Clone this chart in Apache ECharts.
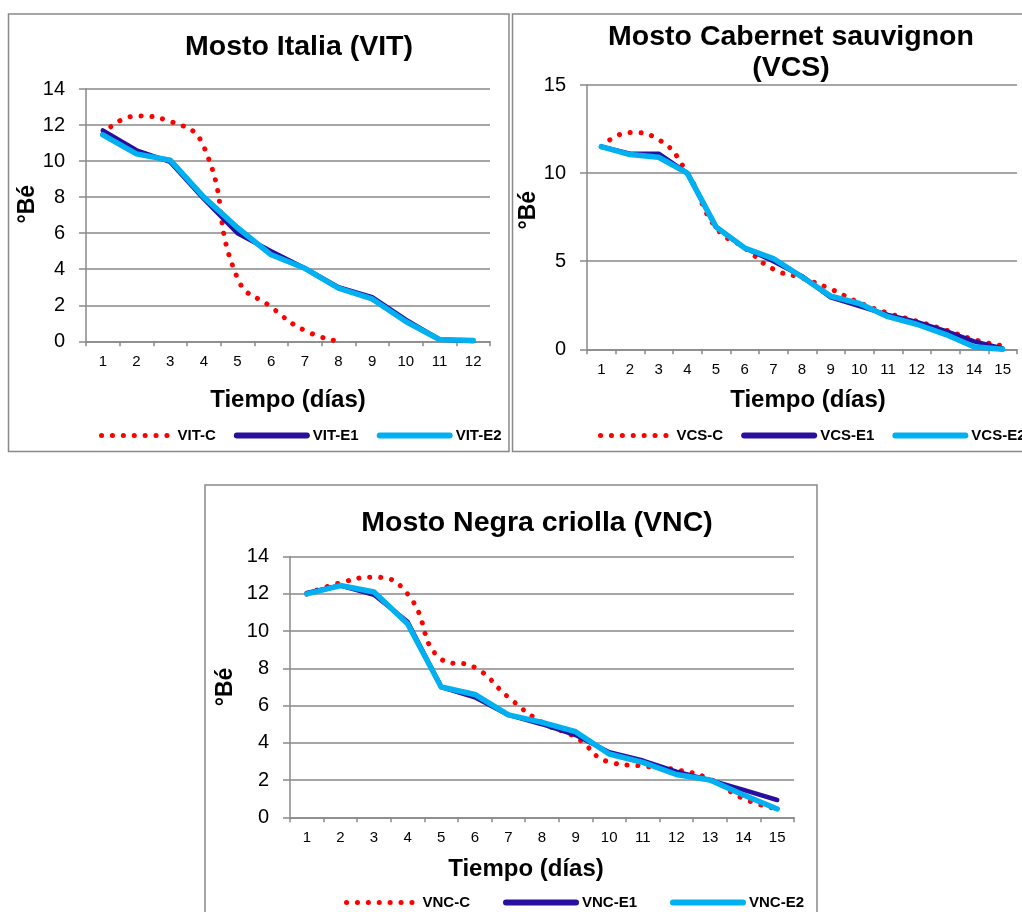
<!DOCTYPE html>
<html>
<head>
<meta charset="utf-8">
<script src="https://cdn.jsdelivr.net/npm/echarts@6/dist/echarts.min.js"></script>
<style>
html,body{margin:0;padding:0;background:#fff;}
#c{width:1022px;height:912px;}
</style>
</head>
<body>
<div id="c"></div>
<script>
// ---- data ----
const days12 = ['1','2','3','4','5','6','7','8','9','10','11','12'];
const days15 = ['1','2','3','4','5','6','7','8','9','10','11','12','13','14','15'];

const vitC  = [11.5, 12.5, 12.2, 10.8, 3.5, 1.9, 0.6, 0];
const vitE1 = [11.7, 10.6, 9.95, 7.9, 6.0, 5.0, 4.05, 3.0, 2.45, 1.2, 0.1, 0.0];
const vitE2 = [11.45, 10.4, 10.05, 8.0, 6.3, 4.8, 4.05, 2.95, 2.35, 1.1, 0.1, 0.05];

const vcsC  = [11.5, 12.3, 11.9, 10.0, 6.9, 5.75, 4.55, 4.05, 3.42, 2.65, 2.05, 1.6, 1.1, 0.55, 0.2];
const vcsE1 = [11.5, 11.1, 11.1, 10.0, 6.95, 5.75, 5.0, 4.15, 2.95, 2.45, 1.95, 1.55, 1.05, 0.45, 0.05];
const vcsE2 = [11.5, 11.05, 10.9, 10.0, 6.95, 5.75, 5.15, 4.1, 3.02, 2.6, 1.85, 1.42, 0.85, 0.15, 0.0];

const vncC  = [12.0, 12.6, 12.9, 12.0, 8.5, 8.05, 6.45, 5.1, 4.3, 2.97, 2.75, 2.55, 2.05, 1.0, 0.45];
const vncE1 = [12.05, 12.45, 11.95, 10.5, 7.0, 6.45, 5.5, 5.0, 4.42, 3.5, 3.05, 2.45, 2.0, 1.47, 0.93];
const vncE2 = [12.0, 12.45, 12.1, 10.4, 7.0, 6.6, 5.5, 5.1, 4.6, 3.4, 2.95, 2.3, 2.0, 1.2, 0.45];

const titles = ['Mosto Italia (VIT)', 'Mosto Cabernet sauvignon\n(VCS)', 'Mosto Negra criolla (VNC)'];
const xName = 'Tiempo (días)';
const yName = '°Bé';
const names = [['VIT-C','VIT-E1','VIT-E2'],['VCS-C','VCS-E1','VCS-E2'],['VNC-C','VNC-E1','VNC-E2']];

// ---- styles ----
const FONT = '"Liberation Sans", Arial, sans-serif';
const GREY = '#898989';
const RED = '#FF0000', DARK = '#2A0E9E', LIGHT = '#00B0F0';
const DOTS = [0.1, 10.8];

const chart = echarts.init(document.getElementById('c'), null, {renderer:'canvas'});

function xAxis(gi, cats, namePad, gap){
  return {
    type:'category', gridIndex:gi, data:cats, boundaryGap:true,
    axisLine:{show:true, lineStyle:{color:GREY, width:1.5}},
    axisTick:{show:true, length:5, lineStyle:{color:GREY, width:1.5}},
    axisLabel:{color:'#000', fontFamily:FONT, fontSize:15, margin:13},
    splitLine:{show:false},
    name:xName, nameLocation:'middle', nameGap:gap,
    nameTextStyle:{color:'#000', fontFamily:FONT, fontSize:24, fontWeight:'bold', padding:namePad}
  };
}
function yAxis(gi, max, interval, namePad, nameGap){
  return {
    type:'value', gridIndex:gi, min:0, max:max, interval:interval,
    axisLine:{show:true, lineStyle:{color:GREY, width:1.5}},
    axisTick:{show:true, length:7, lineStyle:{color:GREY, width:1.5}},
    axisLabel:{color:'#000', fontFamily:FONT, fontSize:20, margin:21},
    splitLine:{show:true, lineStyle:{color:GREY, width:1.5}},
    name:yName, nameLocation:'middle', nameRotate:90, nameGap:nameGap,
    nameTextStyle:{color:'#000', fontFamily:FONT, fontSize:23, fontWeight:'bold', padding:namePad}
  };
}
function series(gi, nm, c, e1, e2){
  return [
    {type:'line', name:nm[0], xAxisIndex:gi, yAxisIndex:gi, data:c, smooth:0.5, symbol:'none', z:2,
     lineStyle:{color:RED, width:5, type:DOTS, cap:'round'}, itemStyle:{color:RED}},
    {type:'line', name:nm[1], xAxisIndex:gi, yAxisIndex:gi, data:e1, symbol:'none', z:3,
     lineStyle:{color:DARK, width:4.5, cap:'round', join:'round'}, itemStyle:{color:DARK}},
    {type:'line', name:nm[2], xAxisIndex:gi, yAxisIndex:gi, data:e2, symbol:'none', z:4,
     lineStyle:{color:LIGHT, width:5.5, cap:'round', join:'round'}, itemStyle:{color:LIGHT}}
  ];
}
function legend(nm, left, top, gap){
  return {
    data:[
      {name:nm[0], itemStyle:{opacity:0}, lineStyle:{color:RED, width:5, type:DOTS, cap:'round', opacity:1}},
      {name:nm[1], itemStyle:{opacity:0}, lineStyle:{color:DARK, width:6, type:'solid', cap:'round', opacity:1}},
      {name:nm[2], itemStyle:{opacity:0}, lineStyle:{color:LIGHT, width:6, type:'solid', cap:'round', opacity:1}}
    ],
    left:left, top:top, width:700, orient:'horizontal', padding:0,
    itemWidth:70, itemHeight:14, itemGap:gap, selectedMode:false,
    textStyle:{color:'#000', fontFamily:FONT, fontSize:15, fontWeight:'bold', padding:[0,0,0,1]}
  };
}
function title(text, cx, top){
  return {text:text, left:cx, top:top, textAlign:'center', padding:0,
    textStyle:{color:'#000', fontFamily:FONT, fontSize:28.5, fontWeight:'bold', lineHeight:31.5}};
}

const option = {
  animation:false,
  backgroundColor:'#fff',
  title:[ title(titles[0], 299, 31), title(titles[1], 791, 21), title(titles[2], 537, 507) ],
  legend:[ legend(names[0], 99, 428, 18), legend(names[1], 598, 428, 18), legend(names[2], 344, 895, 33) ],
  grid:[
    {left:86, top:89, width:404, height:252.3, containLabel:false},
    {left:587, top:85, width:430, height:264.3, containLabel:false},
    {left:290, top:556.7, width:504, height:260.6, containLabel:false}
  ],
  xAxis:[ xAxis(0, days12, [0,0,0,0], 47), xAxis(1, days15, [0,0,0,12], 39), xAxis(2, days15, [0,32,0,0], 40) ],
  yAxis:[ yAxis(0, 14, 2, [0,0,0,22], 43), yAxis(1, 15, 5, [0,0,0,14], 28), yAxis(2, 14, 2, [0,0,0,0], 53) ],
  series:[].concat(series(0, names[0], vitC, vitE1, vitE2),
                   series(1, names[1], vcsC, vcsE1, vcsE2),
                   series(2, names[2], vncC, vncE1, vncE2)),
  graphic:[
    {type:'rect', silent:true, shape:{x:8.5, y:14, width:500.5, height:437.5}, style:{fill:null, stroke:GREY, lineWidth:1.5}},
    {type:'rect', silent:true, shape:{x:512.5, y:14, width:530, height:437.5}, style:{fill:null, stroke:GREY, lineWidth:1.5}},
    {type:'rect', silent:true, shape:{x:205, y:485, width:612, height:450}, style:{fill:null, stroke:GREY, lineWidth:1.5}}
  ]
};
chart.setOption(option);
</script>
</body>
</html>
